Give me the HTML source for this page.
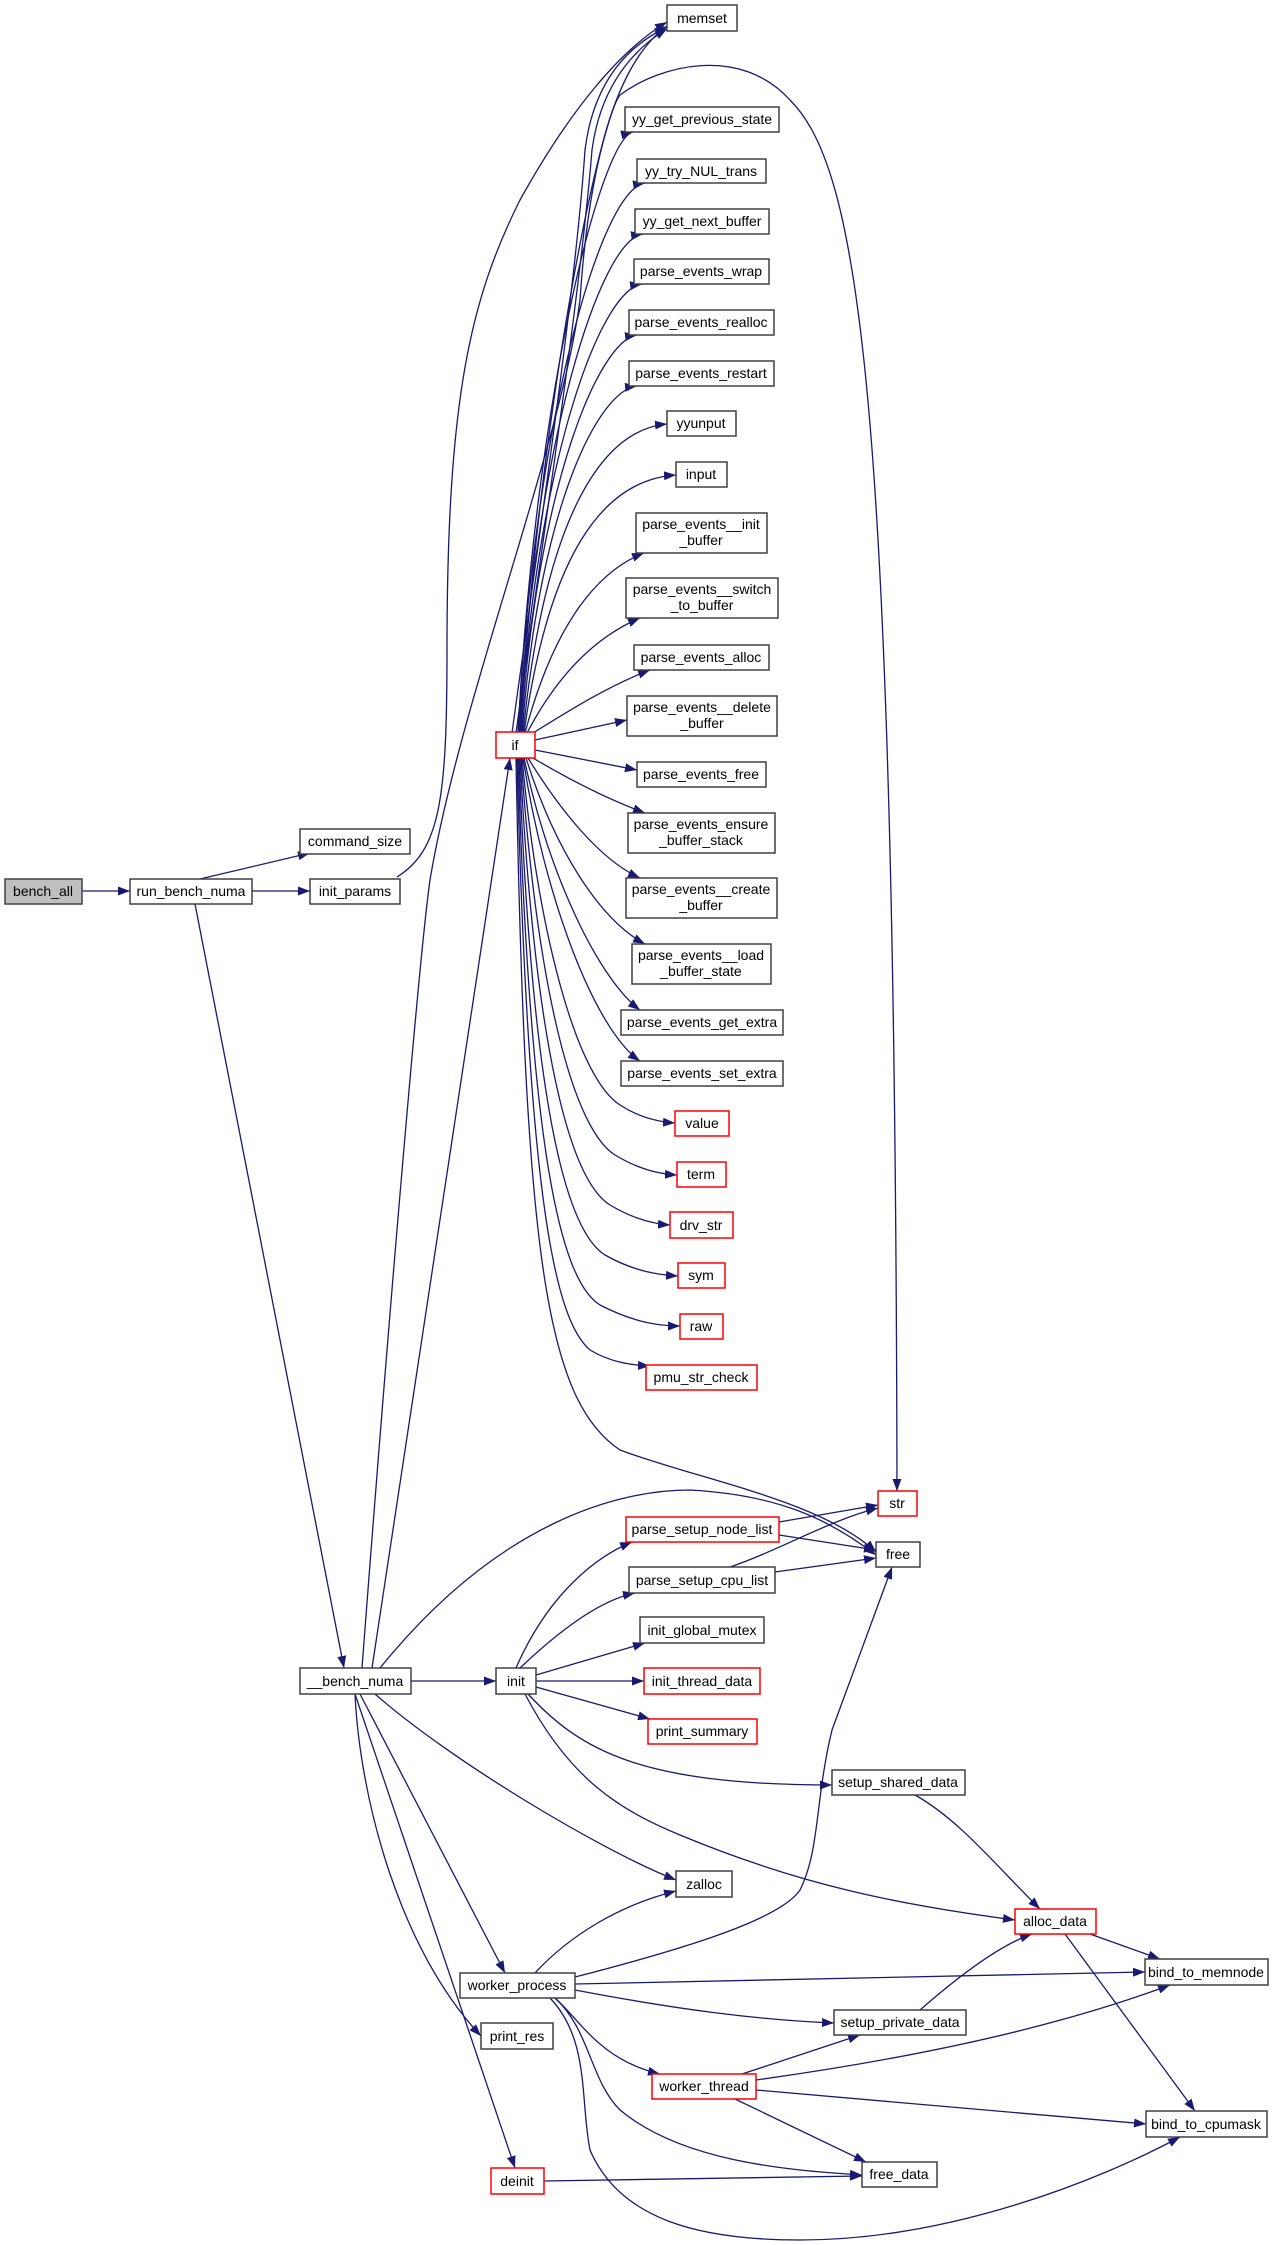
<!DOCTYPE html>
<html><head><meta charset="utf-8"><style>
html,body{margin:0;padding:0;background:#fff;}
svg{display:block;}
text{font-family:"Liberation Sans",sans-serif;font-size:14px;fill:#000;text-anchor:middle;}
.e{fill:none;stroke:#191970;stroke-width:1.3;marker-end:url(#a);}
.n{fill:#fff;stroke:#404040;stroke-width:1.5;}
.r{fill:#fff;stroke:#ff0000;stroke-width:1.5;}
</style></head><body>
<svg width="1273" height="2245" viewBox="0 0 1273 2245" xmlns="http://www.w3.org/2000/svg">
<defs><marker id="a" markerUnits="userSpaceOnUse" markerWidth="12" markerHeight="9" refX="12" refY="4.5" orient="auto"><path d="M0,0 L12,4.5 L0,9 z" fill="#191970"/></marker></defs>
<g>
<path class="e" d="M82,891 L130,891"/>
<path class="e" d="M200,879 L310,853"/>
<path class="e" d="M252,891 L310,891"/>
<path class="e" d="M397,877 C440,850 447,800 447,650 C447,400 470,300 520,200 C570,110 620,50 667,22"/>
<path class="e" d="M195,904 L344,1668"/>
<path class="e" d="M362,1668 C390,1300 420,950 430,880 C460,700 560,450 580,300 C590,150 620,60 667,26"/>
<path class="e" d="M512,733 C530,600 575,300 585,150 C595,70 640,40 667,27"/>
<path class="e" d="M516,733 C534,600 580,300 592,150 C602,75 645,42 667,29"/>
<path class="e" d="M372,1668 L510,758"/>
<path class="e" d="M520,733 C540,400 600,120 620,95 C660,65 740,45 790,100 C860,170 895,400 897,1491"/>
<path class="e" d="M518,733 C535,400 600,140 633,132"/>
<path class="e" d="M518,733 C535,420 600,190 645,183"/>
<path class="e" d="M519,733 C536,440 600,240 643,234"/>
<path class="e" d="M520,733 C537,460 600,290 642,284"/>
<path class="e" d="M521,733 C538,480 600,340 637,335"/>
<path class="e" d="M522,733 C540,500 600,390 637,386"/>
<path class="e" d="M523,733 C545,520 600,430 667,424"/>
<path class="e" d="M524,733 C548,560 600,480 676,475"/>
<path class="e" d="M525,733 C555,620 600,570 644,553"/>
<path class="e" d="M527,733 C560,670 600,635 640,618"/>
<path class="e" d="M533,733 C570,710 610,685 650,670"/>
<path class="e" d="M535,740 L627,720"/>
<path class="e" d="M535,750 L637,770"/>
<path class="e" d="M533,758 C570,780 610,800 645,813"/>
<path class="e" d="M528,758 C560,810 600,860 640,878"/>
<path class="e" d="M526,758 C555,850 600,920 645,944"/>
<path class="e" d="M524,758 C550,880 600,980 640,1010"/>
<path class="e" d="M523,758 C545,900 595,1030 640,1061"/>
<path class="e" d="M522,758 C540,950 580,1080 620,1105 C640,1118 660,1122 675,1123"/>
<path class="e" d="M521,758 C538,1000 575,1130 615,1155 C640,1170 660,1174 677,1175"/>
<path class="e" d="M520,758 C535,1050 570,1180 610,1205 C635,1220 655,1224 670,1225"/>
<path class="e" d="M519,758 C532,1100 565,1230 605,1255 C635,1272 660,1275 678,1276"/>
<path class="e" d="M518,758 C530,1150 560,1280 600,1305 C635,1323 660,1326 680,1326"/>
<path class="e" d="M517,758 C528,1200 555,1320 590,1350 C610,1362 630,1365 650,1366"/>
<path class="e" d="M516,758 C525,1250 545,1400 620,1450 C700,1480 820,1500 876,1552"/>
<path class="e" d="M380,1668 C500,1520 620,1490 690,1490 C780,1495 830,1520 876,1555"/>
<path class="e" d="M411,1681 L496,1681"/>
<path class="e" d="M516,1668 C550,1590 600,1555 632,1542"/>
<path class="e" d="M520,1668 C560,1630 600,1600 635,1593"/>
<path class="e" d="M536,1675 L645,1643"/>
<path class="e" d="M536,1681 L644,1681"/>
<path class="e" d="M536,1687 L650,1719"/>
<path class="e" d="M528,1694 C580,1750 640,1785 832,1785"/>
<path class="e" d="M525,1694 C570,1780 620,1810 680,1835 C800,1885 900,1905 1015,1920"/>
<path class="e" d="M779,1522 L878,1505"/>
<path class="e" d="M779,1535 L876,1550"/>
<path class="e" d="M730,1567 C780,1550 830,1520 878,1508"/>
<path class="e" d="M775,1572 L876,1558"/>
<path class="e" d="M915,1795 C960,1820 1000,1870 1040,1909"/>
<path class="e" d="M535,1973 C570,1935 620,1905 676,1891"/>
<path class="e" d="M575,1977 C680,1950 780,1920 800,1890 C820,1850 815,1800 832,1730 L892,1567"/>
<path class="e" d="M575,1984 L1145,1972"/>
<path class="e" d="M575,1990 C680,2010 760,2020 834,2023"/>
<path class="e" d="M555,1998 C580,2020 600,2060 660,2074"/>
<path class="e" d="M555,1998 C590,2030 590,2080 620,2110 C680,2160 780,2170 862,2175"/>
<path class="e" d="M550,1998 C590,2040 580,2100 590,2150 C620,2220 700,2240 800,2240 C950,2240 1100,2180 1180,2137"/>
<path class="e" d="M920,2010 C960,1975 1000,1945 1032,1934"/>
<path class="e" d="M1090,1934 L1160,1959"/>
<path class="e" d="M1065,1934 L1195,2111"/>
<path class="e" d="M742,2074 L860,2035"/>
<path class="e" d="M756,2080 C900,2060 1050,2030 1170,1985"/>
<path class="e" d="M756,2090 L1146,2124"/>
<path class="e" d="M735,2099 L866,2162"/>
<path class="e" d="M544,2181 L862,2176"/>
<path class="e" d="M375,1694 C450,1760 600,1850 676,1880"/>
<path class="e" d="M360,1694 L505,1973"/>
<path class="e" d="M355,1694 C360,1800 400,1950 481,2036"/>
<path class="e" d="M355,1694 L515,2168"/>
</g>
<g>
<rect x="5" y="879" width="77" height="25" fill="#bfbfbf" stroke="#404040" stroke-width="1.5"/><text x="43" y="896">bench_all</text>
<rect class="n" x="130" y="879" width="122" height="25"/><text x="191" y="896">run_bench_numa</text>
<rect class="n" x="300" y="829" width="110" height="25"/><text x="355" y="846">command_size</text>
<rect class="n" x="310" y="879" width="90" height="25"/><text x="355" y="896">init_params</text>
<rect class="n" x="667" y="5" width="70" height="26"/><text x="702" y="23">memset</text>
<rect class="n" x="625" y="107" width="154" height="25"/><text x="702" y="124">yy_get_previous_state</text>
<rect class="n" x="637" y="159" width="129" height="24"/><text x="701" y="176">yy_try_NUL_trans</text>
<rect class="n" x="635" y="209" width="134" height="25"/><text x="702" y="226">yy_get_next_buffer</text>
<rect class="n" x="634" y="259" width="135" height="25"/><text x="701" y="276">parse_events_wrap</text>
<rect class="n" x="629" y="310" width="145" height="25"/><text x="701" y="327">parse_events_realloc</text>
<rect class="n" x="629" y="361" width="145" height="25"/><text x="701" y="378">parse_events_restart</text>
<rect class="n" x="667" y="411" width="69" height="25"/><text x="701" y="428">yyunput</text>
<rect class="n" x="676" y="462" width="51" height="25"/><text x="701" y="479">input</text>
<rect class="n" x="636" y="513" width="131" height="40"/><text x="701" y="529">parse_events__init</text><text x="701" y="545">_buffer</text>
<rect class="n" x="626" y="578" width="152" height="40"/><text x="702" y="594">parse_events__switch</text><text x="702" y="610">_to_buffer</text>
<rect class="n" x="634" y="645" width="135" height="25"/><text x="701" y="662">parse_events_alloc</text>
<rect class="n" x="627" y="696" width="150" height="40"/><text x="702" y="712">parse_events__delete</text><text x="702" y="728">_buffer</text>
<rect class="r" x="496" y="732" width="39" height="26"/><text x="515" y="750">if</text>
<rect class="n" x="637" y="762" width="129" height="25"/><text x="701" y="779">parse_events_free</text>
<rect class="n" x="628" y="813" width="147" height="40"/><text x="701" y="829">parse_events_ensure</text><text x="701" y="845">_buffer_stack</text>
<rect class="n" x="626" y="878" width="151" height="40"/><text x="701" y="894">parse_events__create</text><text x="701" y="910">_buffer</text>
<rect class="n" x="632" y="944" width="139" height="40"/><text x="701" y="960">parse_events__load</text><text x="701" y="976">_buffer_state</text>
<rect class="n" x="621" y="1010" width="162" height="25"/><text x="702" y="1027">parse_events_get_extra</text>
<rect class="n" x="621" y="1061" width="162" height="25"/><text x="702" y="1078">parse_events_set_extra</text>
<rect class="r" x="675" y="1111" width="54" height="25"/><text x="702" y="1128">value</text>
<rect class="r" x="677" y="1162" width="49" height="25"/><text x="701" y="1179">term</text>
<rect class="r" x="670" y="1212" width="63" height="26"/><text x="701" y="1230">drv_str</text>
<rect class="r" x="678" y="1263" width="47" height="25"/><text x="701" y="1280">sym</text>
<rect class="r" x="680" y="1314" width="43" height="25"/><text x="701" y="1331">raw</text>
<rect class="r" x="646" y="1365" width="111" height="25"/><text x="701" y="1382">pmu_str_check</text>
<rect class="r" x="878" y="1491" width="39" height="25"/><text x="897" y="1508">str</text>
<rect class="n" x="876" y="1542" width="44" height="25"/><text x="898" y="1559">free</text>
<rect class="r" x="626" y="1517" width="153" height="25"/><text x="702" y="1534">parse_setup_node_list</text>
<rect class="n" x="629" y="1567" width="146" height="26"/><text x="702" y="1585">parse_setup_cpu_list</text>
<rect class="n" x="640" y="1617" width="124" height="26"/><text x="702" y="1635">init_global_mutex</text>
<rect class="r" x="644" y="1668" width="116" height="26"/><text x="702" y="1686">init_thread_data</text>
<rect class="r" x="648" y="1719" width="109" height="25"/><text x="702" y="1736">print_summary</text>
<rect class="n" x="300" y="1668" width="111" height="26"/><text x="355" y="1686">__bench_numa</text>
<rect class="n" x="496" y="1668" width="40" height="26"/><text x="516" y="1686">init</text>
<rect class="n" x="832" y="1770" width="133" height="25"/><text x="898" y="1787">setup_shared_data</text>
<rect class="n" x="676" y="1871" width="56" height="26"/><text x="704" y="1889">zalloc</text>
<rect class="r" x="1015" y="1909" width="81" height="25"/><text x="1055" y="1926">alloc_data</text>
<rect class="n" x="1145" y="1959" width="123" height="26"/><text x="1206" y="1977">bind_to_memnode</text>
<rect class="n" x="460" y="1973" width="115" height="25"/><text x="517" y="1990">worker_process</text>
<rect class="n" x="834" y="2010" width="132" height="25"/><text x="900" y="2027">setup_private_data</text>
<rect class="n" x="481" y="2023" width="72" height="26"/><text x="517" y="2041">print_res</text>
<rect class="r" x="652" y="2074" width="104" height="25"/><text x="704" y="2091">worker_thread</text>
<rect class="n" x="1146" y="2111" width="121" height="26"/><text x="1206" y="2129">bind_to_cpumask</text>
<rect class="r" x="491" y="2168" width="53" height="26"/><text x="517" y="2186">deinit</text>
<rect class="n" x="862" y="2162" width="75" height="25"/><text x="899" y="2179">free_data</text>
</g>
</svg>
</body></html>
